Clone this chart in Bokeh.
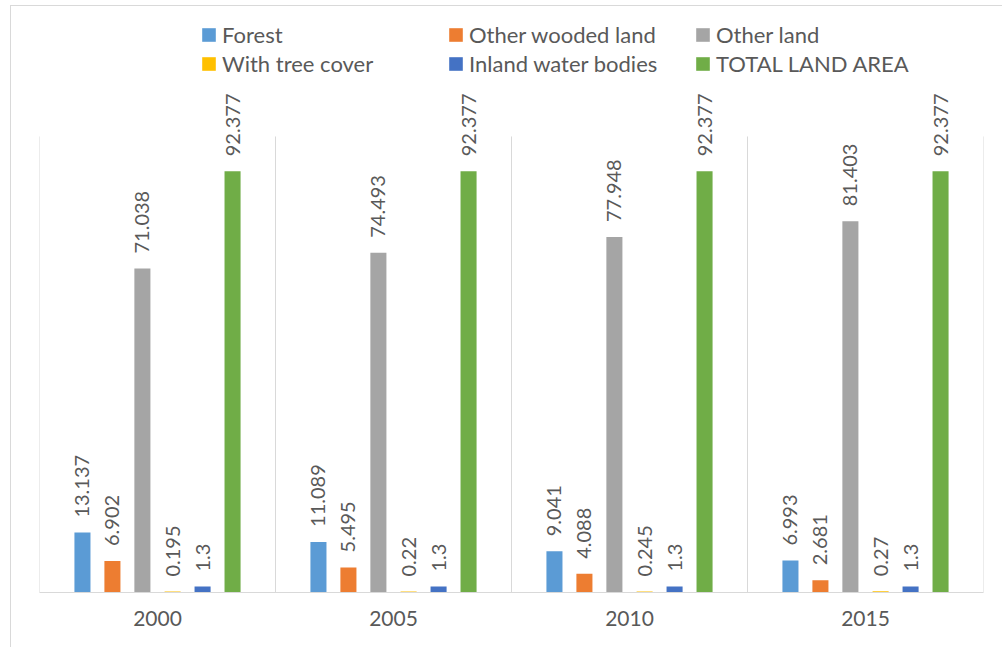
import math
from bokeh.plotting import figure
from bokeh.models import ColumnDataSource, FactorRange, Legend, LegendItem
from bokeh.transform import dodge
from bokeh.core.properties import value
from bokeh.embed import file_html
from bokeh.resources import INLINE

years = ["2000", "2005", "2010", "2015"]
forest = [13.137, 11.089, 9.041, 6.993]
other_wooded = [6.902, 5.495, 4.088, 2.681]
other_land = [71.038, 74.493, 77.948, 81.403]
with_tree_cover = [0.195, 0.22, 0.245, 0.27]
inland_water = [1.3, 1.3, 1.3, 1.3]
total_land = [92.377, 92.377, 92.377, 92.377]

series_names = ["Forest", "Other wooded land", "Other land",
                "With tree cover", "Inland water bodies", "TOTAL LAND AREA"]
series_values = [forest, other_wooded, other_land, with_tree_cover, inland_water, total_land]
colors = ["#5B9BD5", "#ED7D31", "#A5A5A5", "#FFC000", "#4472C4", "#70AD47"]
offsets = [-0.318, -0.191, -0.064, 0.064, 0.191, 0.318]
keys = ["s0", "s1", "s2", "s3", "s4", "s5"]

AXIS_MAX = 100

data = {"year": years, "y0": [0] * len(years), "y1": [AXIS_MAX] * len(years)}
for k, vals in zip(keys, series_values):
    data[k] = vals
    data[k + "_lbl"] = [("%g" % v) for v in vals]
source = ColumnDataSource(data)
last_src = ColumnDataSource({"year": [years[-1]], "y0": [0], "y1": [AXIS_MAX]})

FONT = "Lato"
TXT = "#595959"
GRID = "#D9D9D9"

p = figure(x_range=FactorRange(*years), y_range=(0, 128.5),
           width=992, height=642, frame_width=944, frame_height=586,
           min_border_left=28, min_border_right=20, min_border_top=0, min_border_bottom=55,
           output_backend="svg", toolbar_location=None, tools="")
p.margin = (5, 0, 0, 10)
p.styles = {"border-left": "1px solid #D9D9D9", "border-top": "1px solid #D9D9D9"}
p.outline_line_color = None
p.background_fill_color = "white"
p.border_fill_color = "white"
p.xgrid.grid_line_color = None
p.ygrid.grid_line_color = None
p.yaxis.visible = False

p.xaxis.axis_line_color = GRID
p.xaxis.major_tick_line_color = None
p.xaxis.minor_tick_line_color = None
p.xaxis.major_label_text_font = FONT
p.xaxis.major_label_text_font_size = "21px"
p.xaxis.major_label_text_color = TXT
p.xaxis.major_label_standoff = 12

# category separators
p.segment(x0=dodge("year", -0.5, range=p.x_range), x1=dodge("year", -0.5, range=p.x_range),
          y0="y0", y1="y1", source=source, line_color=GRID, line_width=1)
p.segment(x0=dodge("year", 0.5, range=p.x_range), x1=dodge("year", 0.5, range=p.x_range),
          y0="y0", y1="y1", source=last_src, line_color=GRID, line_width=1)

items = []
for k, name, col, off in zip(keys, series_names, colors, offsets):
    r = p.vbar(x=dodge("year", off, range=p.x_range), top=k, width=0.068,
               source=source, fill_color=col, line_color=None)
    p.text(x=dodge("year", off, range=p.x_range), y=k, text=k + "_lbl", source=source,
           angle=math.pi / 2, text_align="left", text_baseline="middle",
           y_offset=-15, text_font=value(FONT), text_font_size="20px", text_color=TXT)
    items.append(LegendItem(label=name, renderers=[r]))

# legend fills column by column; reorder so it reads row by row (3 per row)
ordered = [items[i] for i in (0, 3, 1, 4, 2, 5)]
legend = Legend(items=ordered, ncols=3, location=(161, 515),
                glyph_width=17, glyph_height=17, label_standoff=5,
                label_width=223, label_height=24, spacing=2, padding=0, margin=0,
                label_text_font=FONT, label_text_font_size="22px", label_text_color=TXT,
                border_line_color=None, background_fill_alpha=0)
p.add_layout(legend, "center")

open("out.html", "w").write(file_html(p, INLINE))
